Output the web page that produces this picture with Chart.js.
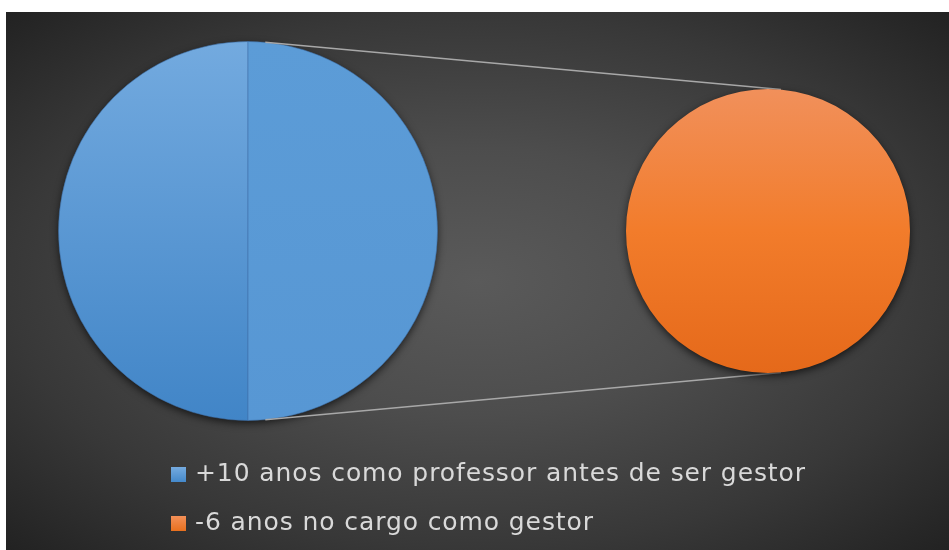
<!DOCTYPE html>
<html>
<head>
<meta charset="utf-8">
<script src="https://cdn.jsdelivr.net/npm/chart.js@4.4.1/dist/chart.umd.min.js"></script>
<style>
  html, body { margin: 0; padding: 0; background: #fff; }
  #wrap { position: relative; width: 949px; height: 550px; overflow: hidden; }
  #bg {
    position: absolute; left: 6px; top: 12px; width: 943px; height: 538px;
    background: radial-gradient(ellipse farthest-corner at 50% 50%, #5a5a5a 0%, #4d4d4d 35%, #383838 70%, #222 100%);
  }
  canvas { position: absolute; left: 0; top: 0; }
  .item {
    position: absolute; left: 195px; height: 30px; line-height: 30px;
    font-family: 'DejaVu Sans'; font-size: 25px; letter-spacing: 0.9px; color: #d9d9d9;
    white-space: nowrap;
  }
  .sw { position: absolute; left: 171px; width: 15px; height: 15px; }
</style>
</head>
<body>
<div id="wrap">
  <div id="bg"></div>
  <canvas id="mainPie" width="949" height="550"></canvas>
  <canvas id="subPie" width="949" height="550"></canvas>
  <div id="legend"></div>
</div>
<script>
// categories and values
const categories = ['+10 anos como professor antes de ser gestor', '-6 anos no cargo como gestor'];
const values = [50, 50];
// index of the points moved to the second pie
const splitIdx = [1];

const mainLabels = [categories[0], 'Outros'];
const mainValues = [values[0], splitIdx.reduce((a, i) => a + values[i], 0)];
const subLabels = splitIdx.map(i => categories[i]);
const subValues = splitIdx.map(i => values[i]);

const gradStops = {
  blue: [[0, '#73aadf'], [1, '#4185c7']],
  other: [[0, '#5c9cd7'], [1, '#5797d4']],
  orange: [[0, '#f1905b'], [0.5, '#f27c2b'], [1, '#e5691a']]
};

function grad(chart, stops) {
  const a = chart.chartArea;
  if (!a) return stops[0][1];
  const g = chart.ctx.createLinearGradient(0, a.top, 0, a.bottom);
  stops.forEach(s => g.addColorStop(s[0], s[1]));
  return g;
}

// soft shadow under each pie
const pieShadow = {
  id: 'pieShadow',
  beforeDatasetsDraw(chart) {
    const arc = chart.getDatasetMeta(0).data[0];
    if (!arc) return;
    const ctx = chart.ctx;
    ctx.save();
    ctx.shadowColor = 'rgba(0,0,0,0.7)';
    ctx.shadowBlur = 8;
    ctx.shadowOffsetY = 3;
    ctx.fillStyle = '#2a2a2a';
    ctx.beginPath();
    ctx.arc(arc.x, arc.y, arc.outerRadius - 0.5, 0, Math.PI * 2);
    ctx.fill();
    ctx.restore();
  }
};

const base = {
  responsive: false,
  devicePixelRatio: 1,
  animation: false,
  events: [],
  plugins: { legend: { display: false }, tooltip: { enabled: false } }
};

const mainChart = new Chart(document.getElementById('mainPie'), {
  type: 'pie',
  data: {
    labels: mainLabels,
    datasets: [{
      data: mainValues,
      backgroundColor: ctx => grad(ctx.chart, ctx.dataIndex === 0 ? gradStops.blue : gradStops.other),
      borderColor: 'rgba(62,112,168,0.55)',
      borderWidth: 1
    }]
  },
  options: Object.assign({}, base, {
    rotation: 180,
    layout: { padding: { left: 58, right: 511, top: 41, bottom: 129 } }
  }),
  plugins: [pieShadow]
});

// common outer tangents between the two pies
const connectors = {
  id: 'connectors',
  beforeDatasetsDraw(chart) {
    const a = mainChart.getDatasetMeta(0).data[0];
    const b = chart.getDatasetMeta(0).data[0];
    if (!a || !b) return;
    const dx = b.x - a.x, dy = b.y - a.y;
    const L = Math.hypot(dx, dy);
    const th = Math.atan2(dy, dx);
    const phi = Math.acos((a.outerRadius - b.outerRadius) / L);
    const ctx = chart.ctx;
    ctx.save();
    ctx.strokeStyle = '#a8a8a8';
    ctx.lineWidth = 1.5;
    [-phi, phi].forEach(p => {
      const nx = Math.cos(th + p), ny = Math.sin(th + p);
      ctx.beginPath();
      ctx.moveTo(a.x + a.outerRadius * nx, a.y + a.outerRadius * ny);
      ctx.lineTo(b.x + b.outerRadius * nx, b.y + b.outerRadius * ny);
      ctx.stroke();
    });
    ctx.restore();
  }
};

new Chart(document.getElementById('subPie'), {
  type: 'pie',
  data: {
    labels: subLabels,
    datasets: [{
      data: subValues,
      backgroundColor: ctx => grad(ctx.chart, gradStops.orange),
      borderWidth: 0
    }]
  },
  options: Object.assign({}, base, {
    layout: { padding: { left: 626, right: 39, top: 89, bottom: 177 } }
  }),
  plugins: [connectors, pieShadow]
});

// legend
const swatches = [
  'linear-gradient(#75abe0, #4489cb)',
  'linear-gradient(#f39058, #e8701e)'
];
const legend = document.getElementById('legend');
categories.forEach((c, i) => {
  const top = 458 + i * 49;
  const sw = document.createElement('div');
  sw.className = 'sw';
  sw.style.top = (467 + i * 49) + 'px';
  sw.style.background = swatches[i];
  legend.appendChild(sw);
  const t = document.createElement('div');
  t.className = 'item';
  t.style.top = top + 'px';
  t.textContent = c;
  legend.appendChild(t);
});
</script>
</body>
</html>
